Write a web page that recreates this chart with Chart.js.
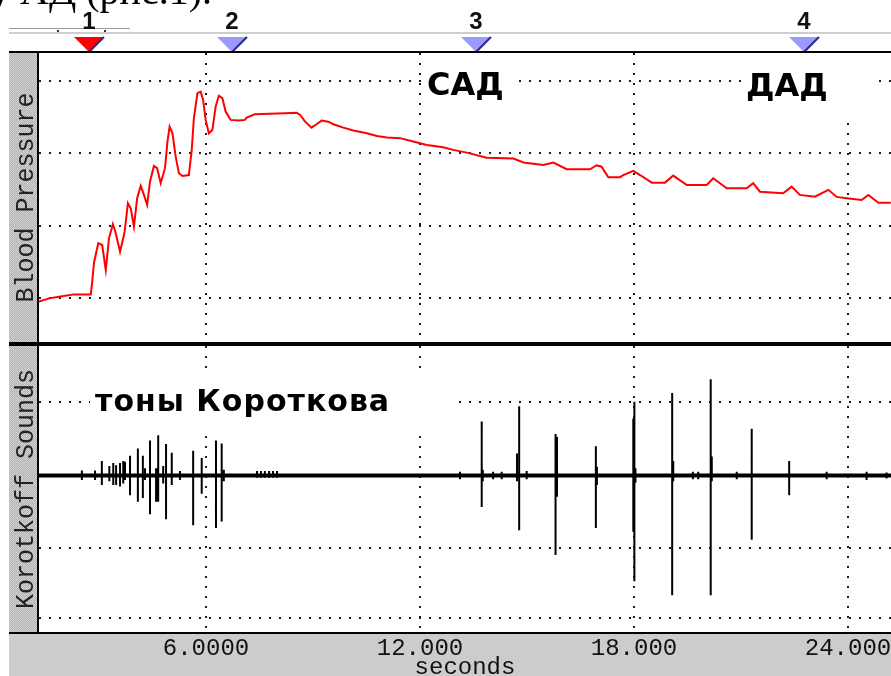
<!DOCTYPE html>
<html>
<head>
<meta charset="utf-8">
<script src="https://cdn.jsdelivr.net/npm/chart.js@4.4.1/dist/chart.umd.min.js"></script>
<style>
  html, body { margin: 0; padding: 0; background: #fff; }
  body { width: 891px; height: 676px; position: relative; overflow: hidden; }
  .abs { position: absolute; }
  .strip { background: repeating-conic-gradient(#b2b2b2 0% 25%, #d2d2d2 0% 50%) 0 0 / 2px 2px; }
  .blk { background: #000; }
  canvas { position: absolute; left: 0; }
  .ann { position: absolute; font-family: "DejaVu Sans", sans-serif; font-weight: bold; color: #000; white-space: nowrap; }
  .cap { position: absolute; font-family: "Liberation Serif", serif; font-size: 40px; line-height: 40px; color: #000; white-space: nowrap; }
</style>
</head>
<body>
<!-- background pieces -->
<div class="abs strip" style="left:9px;top:53px;width:28px;height:580px;"></div>
<div class="abs" style="left:9px;top:634px;width:882px;height:42px;background:#cccccc;"></div>
<div class="abs" style="left:9px;top:28px;width:121px;height:1px;background:#9a9a9a;"></div>
<div class="abs" style="left:9px;top:32px;width:882px;height:2px;background:#cfcfcf;"></div>
<div class="abs" style="left:57px;top:30px;width:2px;height:2px;background:#333;"></div>
<div class="abs" style="left:104px;top:30px;width:2px;height:2px;background:#333;"></div>

<canvas id="cTop" width="891" height="343" style="top:0;"></canvas>
<canvas id="cBot" width="891" height="340" style="top:346px;"></canvas>

<!-- frame lines -->
<div class="abs blk" style="left:9px;top:51px;width:882px;height:2px;"></div>
<div class="abs blk" style="left:37px;top:51px;width:2px;height:583px;"></div>
<div class="abs blk" style="left:9px;top:342px;width:882px;height:4px;"></div>
<div class="abs blk" style="left:9px;top:632px;width:882px;height:2px;"></div>

<!-- texts -->
<div class="cap" style="left:-10px;top:-29px;">у АД (рис.1).</div>
<div class="ann" style="left:427px;top:68px;font-size:32px;line-height:32px;">САД</div>
<div class="ann" style="left:746px;top:69px;font-size:32px;line-height:32px;">ДАД</div>
<div class="ann" style="left:95px;top:386px;font-size:30px;line-height:30px;letter-spacing:1px;">тоны Короткова</div>

<script>
// ---------- data ----------
const xMin = 1.318, xMax = 25.205;
const xTickValues = [6, 12, 18, 24];
const xTickLabels = ['6.0000', '12.000', '18.000', '24.000'];
const xTitle = 'seconds';

const bpMin = 15.67, bpMax = 175.48;
const bpGrid = [40, 80, 120, 160];
const bpTime = [1.32,1.60,1.88,2.30,2.77,2.81,2.86,2.98,3.09,3.19,3.28,3.39,3.47,3.59,3.72,3.81,3.89,3.98,4.07,4.17,
  4.26,4.35,4.43,4.54,4.63,4.73,4.85,4.92,4.98,5.06,5.15,5.24,5.34,5.52,5.60,5.66,5.76,5.85,5.92,5.99,
  6.08,6.18,6.27,6.36,6.46,6.55,6.69,6.93,7.09,7.14,7.37,8.21,8.54,8.64,8.78,8.96,9.10,9.24,9.43,9.57,
  9.85,10.13,10.51,10.79,11.07,11.44,11.81,12.19,12.65,12.93,13.31,13.87,14.62,14.90,15.46,15.74,16.11,16.77,16.95,17.09,
  17.28,17.61,17.70,17.98,18.17,18.50,18.87,19.10,19.48,20.04,20.22,20.60,21.16,21.34,21.53,22.18,22.42,22.65,23.07,23.45,
  23.68,23.96,24.38,24.57,24.85,25.20];
const bpValue = [38.0,39.8,40.7,42.0,42.0,49.0,59.5,70.3,69.3,55.5,73.0,80.9,75.8,65.6,76.7,92.4,89.6,79.4,95.2,102.0,
  97.0,91.5,104.3,113.0,111.8,103.5,111.8,126.5,134.8,131.1,118.2,109.0,107.5,108.0,121.9,139.4,153.3,154.1,149.5,138.5,
  131.1,132.9,145.8,151.8,150.5,143.1,138.5,138.1,138.5,139.8,141.6,142.2,142.5,141.2,137.5,134.2,136.1,138.1,137.5,136.1,
  134.2,132.6,131.1,129.6,128.7,128.4,126.5,124.6,123.4,121.9,120.4,117.6,117.1,114.9,113.6,114.9,111.2,111.2,113.4,112.6,
  106.8,106.8,108.0,110.3,108.0,103.8,103.8,107.7,102.5,102.5,106.2,100.7,100.7,103.5,98.8,97.9,101.6,97.0,96.0,99.8,
  95.9,95.2,94.2,97.0,92.7,92.7];

const kMin = -2.144, kMax = 1.774;
const kGrid = [1, -1, -1.95];
const kTime = [2.52,2.89,3.08,3.29,3.40,3.48,3.59,3.68,3.73,3.87,4.09,4.23,4.29,4.43,4.60,4.63,4.66,4.80,4.88,5.04,
  5.27,5.64,5.88,6.28,6.44,6.50,7.43,7.54,7.65,7.77,7.88,7.99,
  13.12,13.73,13.76,14.05,14.29,14.72,14.78,14.99,15.80,15.84,16.93,16.96,17.98,18.01,18.04,19.07,19.10,19.65,
  19.80,20.15,20.18,20.88,21.30,22.35,23.40,24.52,25.08];
const kTop = [0.07,0.07,0.20,0.13,0.17,0.14,0.17,0.20,0.19,0.27,0.37,0.27,0.10,0.48,0.10,0.10,0.55,0.13,0.43,0.31,
  0.06,0.34,0.24,0.48,0.44,0.08,0.06,0.06,0.06,0.06,0.06,0.06,
  0.05,0.74,0.08,0.05,0.05,0.30,0.95,0.06,0.57,0.53,0.40,0.12,0.78,1.01,0.10,1.13,0.20,0.05,
  0.05,1.32,0.26,0.05,0.64,0.20,0.05,0.05,0.04];
const kBottom = [-0.06,-0.06,-0.13,-0.08,-0.13,-0.13,-0.15,-0.11,-0.06,-0.27,-0.36,-0.31,-0.06,-0.53,-0.36,-0.36,-0.36,-0.11,-0.60,-0.13,
  -0.06,-0.68,-0.25,-0.72,-0.63,-0.08,-0.03,-0.03,-0.03,-0.03,-0.03,-0.03,
  -0.05,-0.43,-0.08,-0.05,-0.05,-0.08,-0.75,-0.05,-1.09,-0.29,-0.72,-0.13,-0.77,-1.45,-0.10,-1.64,-0.08,-0.05,
  -0.05,-1.64,-0.08,-0.05,-0.88,-0.27,-0.05,-0.06,-0.04];

const markerTimes = [2.72, 6.73, 13.57, 22.76];
const markerLabels = ['1', '2', '3', '4'];

// ---------- helpers ----------
function zeroPad(s) { s.paddingLeft = 0; s.paddingRight = 0; s.paddingTop = 0; s.paddingBottom = 0; }
const gridOpts = { display: true, color: '#1e1e1e', lineWidth: 2, drawTicks: false };
const borderOpts = { display: false, dash: [2, 8] };
const monoFont = 'Liberation Mono';

const boxPlugin = {
  id: 'whiteBoxes',
  beforeDatasetsDraw(chart, args, opts) {
    const ctx = chart.ctx;
    ctx.save();
    ctx.fillStyle = '#ffffff';
    (opts.rects || []).forEach(r => ctx.fillRect(r[0], r[1], r[2], r[3]));
    ctx.restore();
  }
};

const markerPlugin = {
  id: 'markers',
  afterDraw(chart) {
    const ctx = chart.ctx, xs = chart.scales.x;
    ctx.save();
    markerTimes.forEach((t, i) => {
      const x = Math.round(xs.getPixelForValue(t));
      ctx.beginPath();
      ctx.moveTo(x - 15, 37); ctx.lineTo(x + 15, 37); ctx.lineTo(x, 52); ctx.closePath();
      ctx.fillStyle = i === 0 ? '#ff0000' : '#9a9aff';
      ctx.fill();
      ctx.beginPath();
      ctx.moveTo(x + 15, 37); ctx.lineTo(x, 52);
      ctx.strokeStyle = '#2a2a8a'; ctx.lineWidth = 2; ctx.stroke();
      ctx.fillStyle = '#111';
      ctx.font = 'bold 24px "Liberation Sans"';
      ctx.textAlign = 'center'; ctx.textBaseline = 'alphabetic';
      ctx.fillText(markerLabels[i], x, 29);
    });
    ctx.restore();
  }
};

// ---------- top chart: blood pressure ----------
new Chart(document.getElementById('cTop'), {
  type: 'line',
  data: {
    datasets: [{
      data: bpTime.map((t, i) => ({ x: t, y: bpValue[i] })),
      borderColor: '#ff0000', borderWidth: 2, pointRadius: 0, tension: 0, fill: false
    }]
  },
  options: {
    responsive: false, animation: false, events: [],
    layout: { padding: { left: 9, top: 53, right: 0, bottom: 1 } },
    plugins: {
      legend: { display: false }, tooltip: { enabled: false },
      whiteBoxes: { rects: [[425, 53, 88, 65], [743, 53, 130, 64]] }
    },
    scales: {
      x: {
        type: 'linear', min: xMin, max: xMax,
        afterBuildTicks: s => { s.ticks = xTickValues.map(v => ({ value: v })); },
        ticks: { display: false }, grid: gridOpts, border: borderOpts,
        afterFit: s => { s.height = 0; zeroPad(s); }
      },
      y: {
        type: 'linear', min: bpMin, max: bpMax,
        afterBuildTicks: s => { s.ticks = bpGrid.map(v => ({ value: v })); },
        ticks: { display: false }, grid: gridOpts, border: borderOpts,
        title: { display: true, text: 'Blood Pressure', color: '#222', font: { family: monoFont, size: 25 }, padding: { top: 2, bottom: 0 } },
        afterFit: s => { s.width = 30; zeroPad(s); }
      }
    }
  },
  plugins: [boxPlugin, markerPlugin]
});

// ---------- bottom chart: Korotkoff sounds ----------
const spikePoints = [];
kTime.forEach((t, i) => {
  spikePoints.push({ x: t, y: kTop[i] }, { x: t, y: kBottom[i] }, { x: t, y: null });
});

new Chart(document.getElementById('cBot'), {
  type: 'line',
  data: {
    datasets: [
      { data: [{ x: xMin, y: 0 }, { x: xMax, y: 0 }], borderColor: '#000', borderWidth: 4, pointRadius: 0, tension: 0 },
      { data: spikePoints, borderColor: '#000', borderWidth: 2, pointRadius: 0, tension: 0, spanGaps: false }
    ]
  },
  options: {
    responsive: false, animation: false, events: [],
    layout: { padding: { left: 9, top: 0, right: 0, bottom: 0 } },
    plugins: {
      legend: { display: false }, tooltip: { enabled: false },
      whiteBoxes: { rects: [[90, 26, 365, 63]] }
    },
    scales: {
      x: {
        type: 'linear', min: xMin, max: xMax,
        afterBuildTicks: s => { s.ticks = xTickValues.map(v => ({ value: v })); },
        ticks: {
          display: true, padding: 2, color: '#111', maxRotation: 0, minRotation: 0, autoSkip: false,
          font: { family: monoFont, size: 24 },
          callback: (v, i) => xTickLabels[i]
        },
        grid: gridOpts, border: borderOpts,
        title: { display: true, text: xTitle, color: '#111', font: { family: monoFont, size: 24 }, padding: { top: 0, bottom: 4 } },
        afterFit: s => { s.height = 54; zeroPad(s); }
      },
      y: {
        type: 'linear', min: kMin, max: kMax,
        afterBuildTicks: s => { s.ticks = kGrid.map(v => ({ value: v })); },
        ticks: { display: false }, grid: gridOpts, border: borderOpts,
        title: { display: true, text: 'Korotkoff Sounds', color: '#222', font: { family: monoFont, size: 25 }, padding: { top: 2, bottom: 0 } },
        afterFit: s => { s.width = 30; zeroPad(s); }
      }
    }
  },
  plugins: [boxPlugin]
});
</script>
</body>
</html>
